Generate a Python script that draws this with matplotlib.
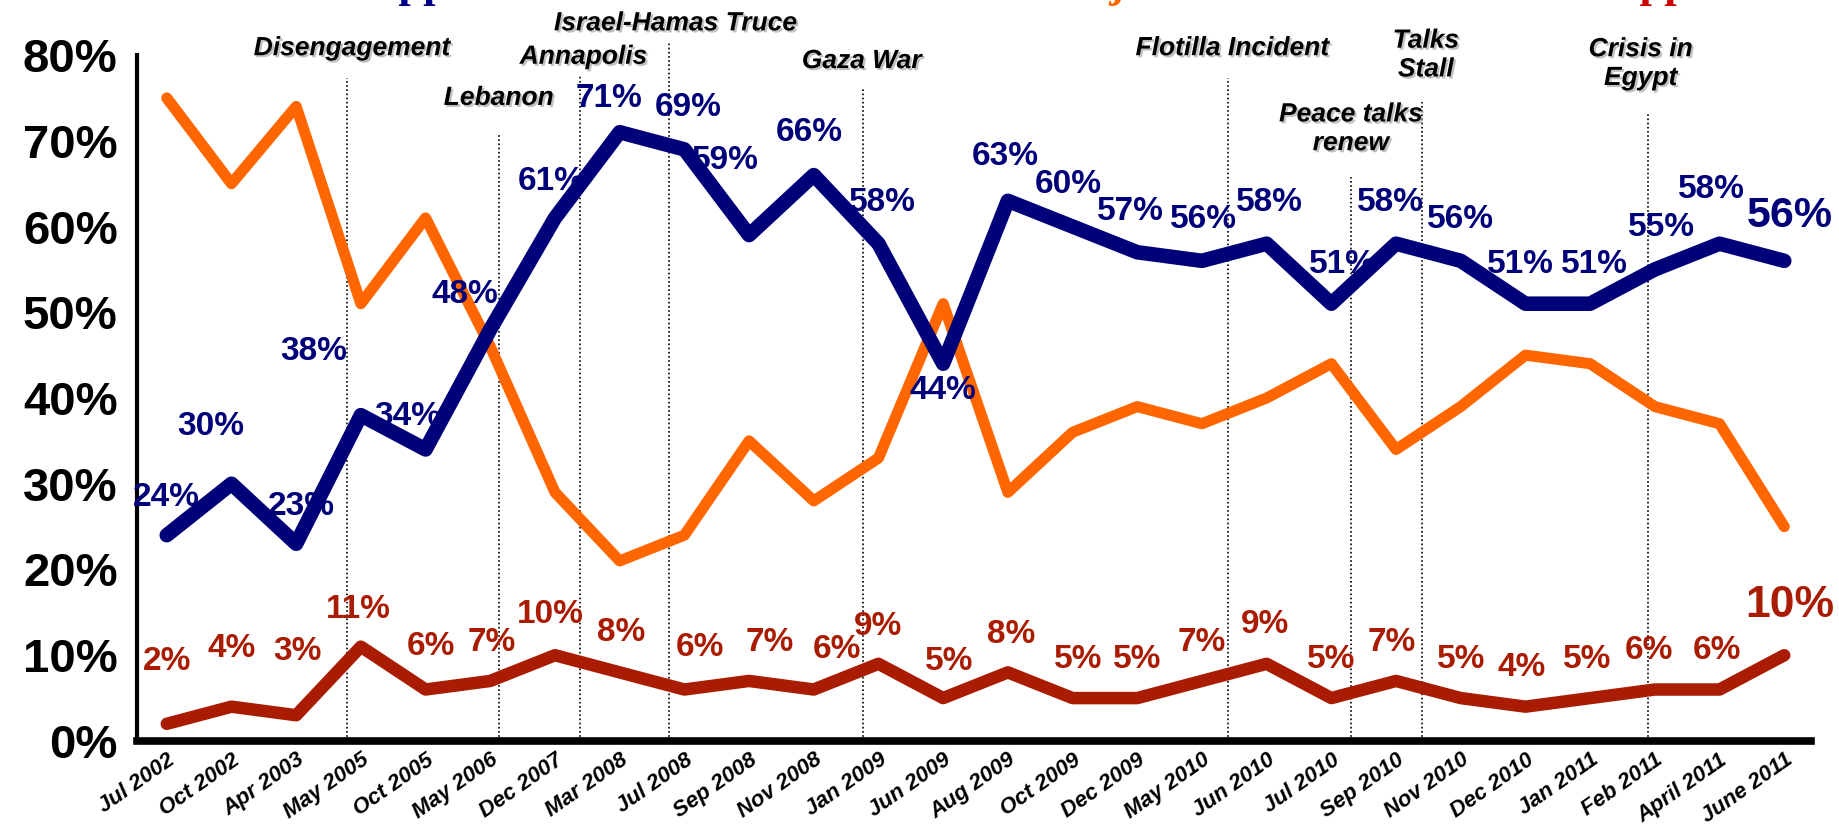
import matplotlib.pyplot as plt
import matplotlib.patheffects as pe

dates = ["Jul 2002", "Oct 2002", "Apr 2003", "May 2005", "Oct 2005", "May 2006",
         "Dec 2007", "Mar 2008", "Jul 2008", "Sep 2008", "Nov 2008", "Jan 2009",
         "Jun 2009", "Aug 2009", "Oct 2009", "Dec 2009", "May 2010", "Jun 2010",
         "Jul 2010", "Sep 2010", "Nov 2010", "Dec 2010", "Jan 2011", "Feb 2011",
         "April 2011", "June 2011"]

blue = [24, 30, 23, 38, 34, 48, 61, 71, 69, 59, 66, 58, 44, 63, 60, 57, 56, 58,
        51, 58, 56, 51, 51, 55, 58, 56]
orange = [75, 65, 74, 51, 61, 46, 29, 21, 24, 35, 28, 33, 51, 29, 36, 39, 37, 40,
          44, 34, 39, 45, 44, 39, 37, 25]
red = [2, 4, 3, 11, 6, 7, 10, 8, 6, 7, 6, 9, 5, 8, 5, 5, 7, 9, 5, 7, 5, 4, 5, 6,
       6, 10]

events = ["Disengagement", "Lebanon", "Annapolis", "Israel-Hamas Truce", "Gaza War",
          "Flotilla Incident", "Peace talks\nrenew", "Talks\nStall", "Crisis in\nEgypt"]
# where each event sits between the survey dates
event_pos = [2.79, 5.14, 6.39, 7.77, 10.76, 16.41, 18.30, 19.40, 22.90]

# layout only: line tops, text positions, label offsets
line_top = [77.3, 70.9, 77.7, 81.4, 76.3, 77.3, 65.8, 74.5, 73.2]
text_xy = [(2.86, 80.8), (5.13, 75.0), (6.44, 79.8), (7.86, 83.7), (10.74, 79.3),
           (16.47, 80.8), (18.30, 71.4), (19.46, 80.0), (22.78, 79.0)]

blue_off = [(0, 27), (-15, 41), (4, 27), (-34, 46), (-13, 24), (-18, 25), (-3, 26),
            (-8, 24), (3, 30), (-17, 54), (-3, 31), (3, 30), (0, -19), (-2, 32),
            (-3, 30), (-5, 29), (1, 30), (2, 30), (8, 28), (-4, 30), (0, 30),
            (-4, 28), (3, 28), (5, 30), (-6, 39), (4, 32)]
red_off = [(0, 45), (0, 42), (1, 46), (-2, 27), (4, 31), (1, 28), (-3, 29), (1, 29),
           (11, 30), (15, 28), (17, 29), (0, 27), (4, 26), (2, 27), (4, 28),
           (0, 28), (0, 28), (-1, 28), (0, 28), (-3, 28), (0, 28), (-3, 28),
           (-2, 28), (-4, 28), (-2, 28), (4, 36)]

NAVY = "#000078"
ORANGE = "#FF6600"
RED = "#AA1C02"

plt.rcParams['font.family'] = ['Liberation Sans', 'DejaVu Sans']

fig = plt.figure(figsize=(18.39, 8.38), dpi=100)
ax = fig.add_axes([0.0745, 0.1158, 0.9105, 0.8185])

x = list(range(len(dates)))
ax.plot(x, orange, color=ORANGE, lw=8, solid_joinstyle='round', solid_capstyle='round', zorder=3)
ax.plot(x, red, color=RED, lw=9, solid_joinstyle='round', solid_capstyle='round', zorder=3)
ax.plot(x, blue, color=NAVY, lw=10.5, solid_joinstyle='round', solid_capstyle='round', zorder=4)

shadow = [pe.withSimplePatchShadow(offset=(1.5, -1.5), shadow_rgbFace='0.6', alpha=0.6)]

for p, top in zip(event_pos, line_top):
    ax.plot([p, p], [0, top], color='black', lw=1.2, ls=(0, (1, 1.5)), zorder=1, clip_on=False)
for name, (tx, ty) in zip(events, text_xy):
    t = ax.text(tx, ty, name, ha='center', va='center', fontsize=19, fontweight='bold',
                fontstyle='italic', linespacing=1.25, clip_on=False)
    t.set_path_effects(shadow)

for i, v in enumerate(blue):
    big = i == len(blue) - 1
    ax.annotate(f"{v}%", (i, v), xytext=blue_off[i], textcoords='offset points',
                ha='center', va='center', color=NAVY, fontweight='bold',
                fontsize=31 if big else 24, zorder=5)
for i, v in enumerate(red):
    big = i == len(red) - 1
    ax.annotate(f"{v}%", (i, v), xytext=red_off[i], textcoords='offset points',
                ha='center', va='center', color=RED, fontweight='bold',
                fontsize=32 if big else 24, zorder=5)

ax.set_xlim(-0.46, 25.42)
ax.set_ylim(0, 80)
ax.set_yticks(range(0, 81, 10))
ax.set_yticklabels([f"{v}%" for v in range(0, 81, 10)], fontsize=34, fontweight='bold')
ax.tick_params(axis='y', length=0, pad=14)
ax.set_xticks(x)
ax.set_xticklabels(dates, rotation=35, ha='right', va='top', rotation_mode='anchor',
                   fontsize=16, fontweight='bold', fontstyle='italic')
ax.tick_params(axis='x', length=0, pad=6)

for s in ['top', 'right']:
    ax.spines[s].set_visible(False)
ax.spines['left'].set_linewidth(3)
ax.spines['bottom'].set_linewidth(5.5)
ax.spines['bottom'].set_path_effects([pe.withSimplePatchShadow(offset=(1, -2), shadow_rgbFace='0.6', alpha=0.7)])

# heading row, almost entirely cut off by the top edge
fig.text(428 / 1839, 1 + 3 / 838, "Support", color="#00008B", fontsize=32, fontweight='bold',
         family=['Liberation Serif', 'DejaVu Serif'], ha='center', va='baseline')
fig.text(1122 / 1839, 1 + 3 / 838, "Reject", color=ORANGE, fontsize=32, fontweight='bold',
         family=['Liberation Serif', 'DejaVu Serif'], ha='center', va='baseline', fontstyle='italic')
fig.text(1678 / 1839, 1 + 3 / 838, "Oppose", color="#CC0000", fontsize=32, fontweight='bold',
         family=['Liberation Serif', 'DejaVu Serif'], ha='center', va='baseline')

fig.savefig("out.png", dpi=100)
